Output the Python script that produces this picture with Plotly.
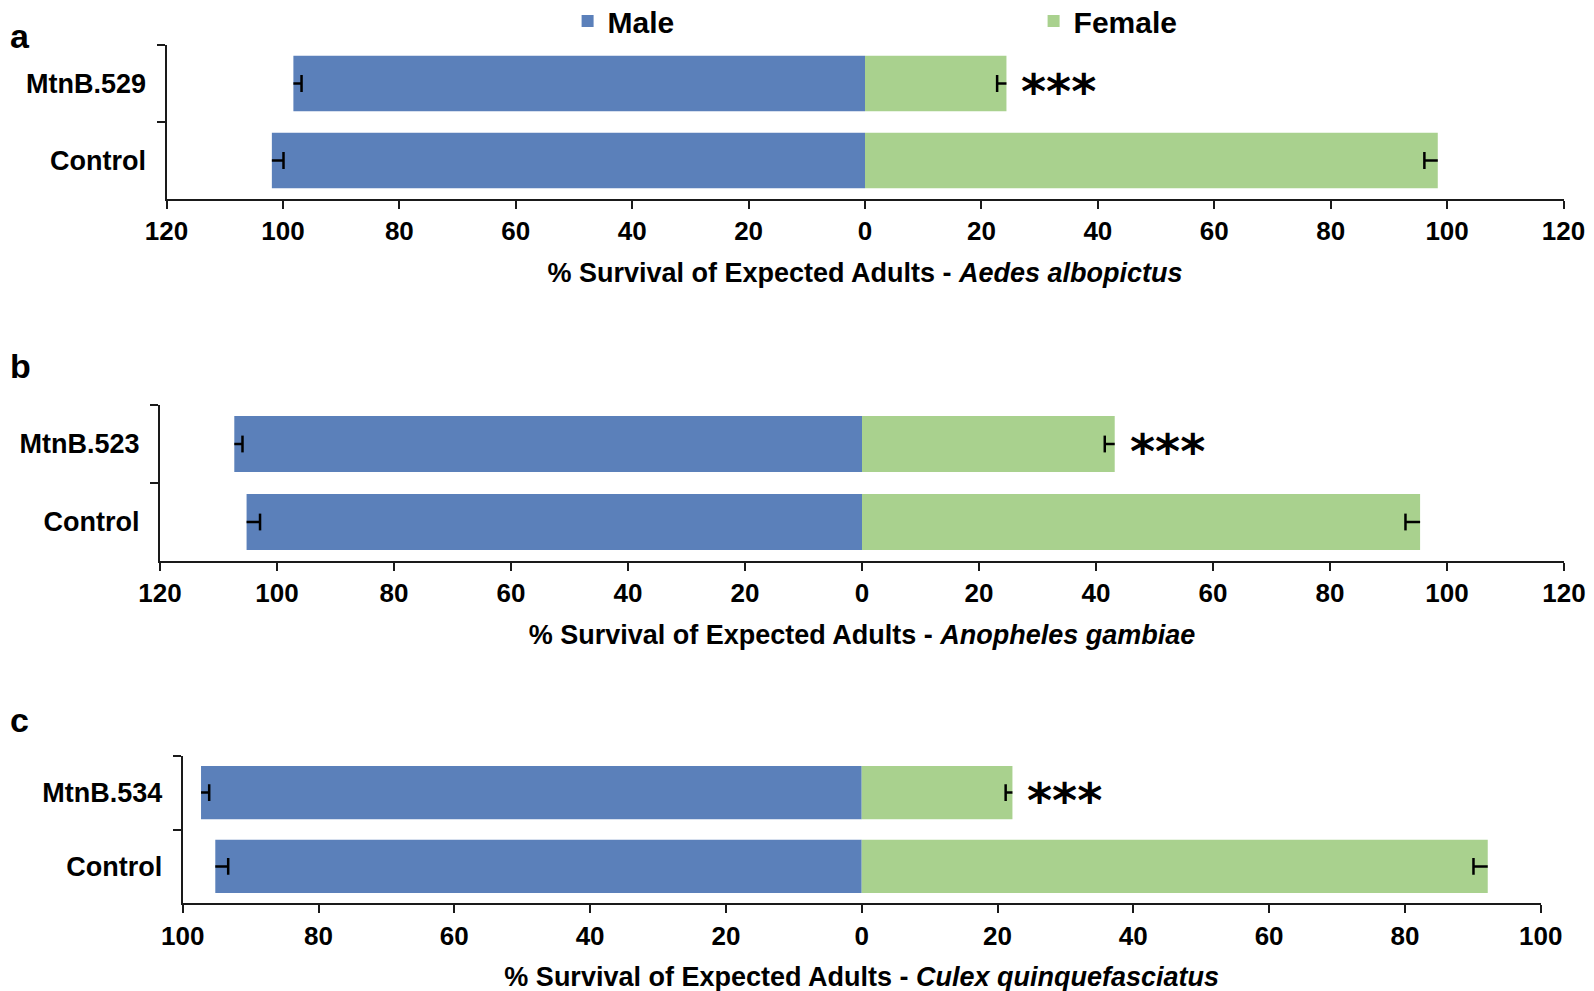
import plotly.graph_objects as go

# ---------------- data ----------------
cats_a = ["Control", "MtnB.529"]
male_a = [101.9, 98.2]
male_err_a = [2.0, 1.4]
female_a = [98.4, 24.3]
female_err_a = [2.3, 1.6]

cats_b = ["Control", "MtnB.523"]
male_b = [105.2, 107.3]
male_err_b = [2.3, 1.4]
female_b = [95.4, 43.2]
female_err_b = [2.5, 1.7]

cats_c = ["Control", "MtnB.534"]
male_c = [95.2, 97.3]
male_err_c = [1.9, 1.2]
female_c = [92.2, 22.2]
female_err_c = [2.1, 1.0]

species = ["Aedes albopictus", "Anopheles gambiae", "Culex quinquefasciatus"]
panel_letters = ["a", "b", "c"]
signif = ["***", "***", "***"]
ticks_ab = [-120, -100, -80, -60, -40, -20, 0, 20, 40, 60, 80, 100, 120]
ticks_c = [-100, -80, -60, -40, -20, 0, 20, 40, 60, 80, 100]

# ---------------- style ----------------
W, H = 1594, 991
BLUE = "#5B80BA"
GREEN = "#A9D18E"
FONT = "Liberation Sans, Arial, sans-serif"
AX = "#1a1a1a"

panels = [
    dict(cats=cats_a, m=male_a, me=male_err_a, f=female_a, fe=female_err_a,
         ticks=ticks_ab, rng=[-120, 120], xpx=(158.5, 1555.5), ypx=(37.0, 191.0),
         letter_y=28),
    dict(cats=cats_b, m=male_b, me=male_err_b, f=female_b, fe=female_err_b,
         ticks=ticks_ab, rng=[-120, 120], xpx=(152.0, 1556.0), ypx=(397.0, 553.0),
         letter_y=358),
    dict(cats=cats_c, m=male_c, me=male_err_c, f=female_c, fe=female_err_c,
         ticks=ticks_c, rng=[-100, 100], xpx=(174.7, 1532.7), ypx=(747.7, 895.3),
         letter_y=712),
]

fig = go.Figure()
layout = dict(
    width=W, height=H, margin=dict(l=0, r=0, t=0, b=0, autoexpand=False),
    paper_bgcolor="white", plot_bgcolor="white",
    barmode="relative", bargap=0.28,
    font=dict(family=FONT, color="black", size=26, weight="bold"),
    showlegend=True,
    legend=dict(orientation="h", x=559.6 / W, xanchor="left", y=1.013, yanchor="top",
                font=dict(size=30, family=FONT, weight="bold"),
                entrywidth=421, entrywidthmode="pixels",
                bgcolor="rgba(0,0,0,0)", traceorder="normal"),
)
annotations = []

for i, p in enumerate(panels):
    xa = "x" if i == 0 else f"x{i+1}"
    ya = "y" if i == 0 else f"y{i+1}"
    xkey = "xaxis" if i == 0 else f"xaxis{i+1}"
    ykey = "yaxis" if i == 0 else f"yaxis{i+1}"

    # bars with one-sided (inward) error bars
    fig.add_trace(go.Bar(
        y=p["cats"], x=[-v for v in p["m"]], orientation="h",
        marker=dict(color=BLUE, line=dict(width=0)), name="Male",
        showlegend=(i == 0), legendgroup="m",
        error_x=dict(type="data", symmetric=False, array=p["me"],
                     arrayminus=[0] * len(p["me"]), color="black",
                     thickness=2.5, width=0),
        xaxis=xa, yaxis=ya, hoverinfo="skip"))
    fig.add_trace(go.Bar(
        y=p["cats"], x=p["f"], orientation="h",
        marker=dict(color=GREEN, line=dict(width=0)), name="Female",
        showlegend=(i == 0), legendgroup="f",
        error_x=dict(type="data", symmetric=False, array=[0] * len(p["fe"]),
                     arrayminus=p["fe"], color="black", thickness=2.5, width=0),
        xaxis=xa, yaxis=ya, hoverinfo="skip"))
    # error-bar caps only at the inner end
    fig.add_trace(go.Scatter(
        y=p["cats"] + p["cats"],
        x=[-(v - e) for v, e in zip(p["m"], p["me"])] +
          [v - e for v, e in zip(p["f"], p["fe"])],
        mode="markers", showlegend=False, hoverinfo="skip",
        marker=dict(symbol="line-ns", size=12, color="black",
                    line=dict(width=2.5, color="black")),
        xaxis=xa, yaxis=ya))

    x0, x1 = p["xpx"]
    y0, y1 = p["ypx"]
    layout[xkey] = dict(
        domain=[x0 / W, x1 / W], range=p["rng"], anchor=ya,
        tickmode="array", tickvals=p["ticks"],
        ticktext=[str(abs(t)) for t in p["ticks"]],
        ticks="outside", ticklen=8, tickwidth=2, tickcolor=AX,
        showline=True, linewidth=2, linecolor=AX,
        showgrid=False, zeroline=False,
        tickfont=dict(size=26, family=FONT, weight="bold"),
        title=dict(text="% Survival of Expected Adults - <i>" + species[i] + "</i>",
                   font=dict(size=27, family=FONT, weight="bold"), standoff=18),
        fixedrange=True,
    )
    layout[ykey] = dict(
        domain=[1 - y1 / H, 1 - y0 / H], anchor=xa,
        type="category", categoryorder="array", categoryarray=p["cats"],
        range=[-0.5, len(p["cats"]) - 0.5],
        tickson="boundaries", ticks="outside", ticklen=8, tickwidth=2, tickcolor=AX,
        showline=True, linewidth=2, linecolor=AX, showgrid=False, zeroline=False,
        tickfont=dict(size=27, family=FONT, weight="bold"),
        ticklabelstandoff=13,
        fixedrange=True,
    )
    # significance stars next to the treated female bar
    annotations.append(dict(
        x=p["f"][1], y=p["cats"][1], xref=xa, yref=ya,
        text=signif[i], showarrow=False, xanchor="left", yanchor="middle",
        xshift=13, yshift=-7,
        font=dict(size=48, family="DejaVu Sans, sans-serif", weight="bold")))
    # panel letter
    annotations.append(dict(
        x=0.0, y=1 - p["letter_y"] / H, xref="paper", yref="paper",
        text=panel_letters[i], showarrow=False, xanchor="left", yanchor="middle",
        font=dict(size=34, family=FONT, weight="bold")))

layout["annotations"] = annotations
fig.update_layout(**layout)
fig.write_html("out.html")
